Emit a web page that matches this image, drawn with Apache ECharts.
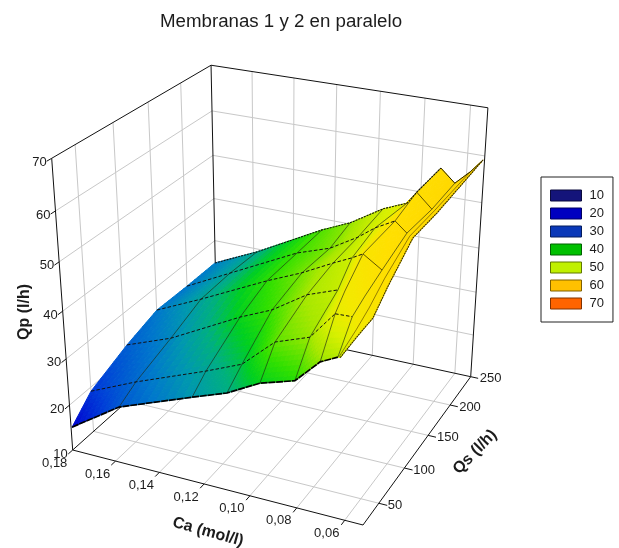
<!DOCTYPE html><html><head><meta charset="utf-8"><style>html,body{margin:0;background:#fff}#c{width:619px;height:548px}</style>
<script src="https://cdn.jsdelivr.net/npm/echarts@6/dist/echarts.min.js"></script></head><body><div id="c"></div>
<script>
// ---- data ----
const titleText = 'Membranas 1 y 2 en paralelo';
const caTicks = [0.18, 0.16, 0.14, 0.12, 0.10, 0.08, 0.06];
const qsTicks = [50, 100, 150, 200, 250];
const qpTicks = [10, 20, 30, 40, 50, 60, 70];
const legendNames = ['10', '20', '30', '40', '50', '60', '70'];
const legendColors = ['#14147a', '#0000c0', '#0a38b8', '#00c000', '#c0f000', '#ffc000', '#ff6400'];
const legendBorders = ['#0a0a3c', '#000060', '#051c5c', '#006000', '#607800', '#806000', '#803200'];
const caGrid = [
  [.1799, .1573, .1245, .1095, .0956, .0813, .0715, .0641, .0623, .0602],
  [.1800, .1585, .1266, .1108, .0967, .0823, .0706, .0609, .0557, .0534],
  [.1799, .1585, .1262, .1119, .0967, .0836, .0715, .0600, .0550, .0508],
  [.1802, .1583, .1269, .1109, .0971, .0888, .0746, .0594, .0559, .0524],
  [.1800, .1581, .1255, .1101, .0974, .0898, .0717, .0599, .0579, .0562],
  [.1784, .1567, .1245, .1111, .0958, .0849, .0728, .0577, .0563, .0546],
  [null, null, null, null, null, null, .0713, .0570, .0546, .0533]
];
const qsGrid = [
  [22, 22, 22, 22, 22, 22, 23, 21, 15, 8],
  [50, 50, 50, 50, 50, 50, 43, 30, 14, 5],
  [103, 103, 103, 103, 103, 103, 63, 47, 32, 20],
  [151, 151, 151, 151, 151, 151, 108, 74, 63, 53],
  [200, 200, 200, 200, 200, 200, 155, 122, 118, 116],
  [244, 244, 244, 244, 244, 244, 204, 161, 159, 156],
  [null, null, null, null, null, null, 249, 206, 228, 251]
];
const qpGrid = [
  [15.0, 22.1, 28.0, 30.6, 34.2, 36.3, 41, 43, 44, 45],
  [19.1, 23.6, 29.5, 32.7, 38.8, 41.3, 48, 50, 50, 50],
  [22.6, 26.4, 34.4, 37.4, 42.1, 44.4, 50, 52, 52, 52],
  [24.7, 29.4, 36.6, 39.9, 43.3, 45.2, 52, 54, 54, 54],
  [24.6, 29.8, 37.5, 40.0, 43.6, 46.3, 54, 56, 56, 56],
  [25.4, 30.1, 38.2, 41.0, 45.5, 47.7, 55, 57, 57, 57],
  [null, null, null, null, null, null, 56, 58, 58.5, 59]
];
const colorStops = [[15,[0,0,208]],[20,[0,64,216]],[25,[0,120,204]],[28,[0,152,176]],[31,[0,176,128]],[34,[0,208,32]],[37,[48,224,0]],[42,[168,232,0]],[46,[216,240,0]],[50,[242,234,0]],[54,[255,224,0]],[60,[255,212,0]]];

// ---- perspective box: where its corners fall on the page ----
const CA0 = 0.18, CA1 = 0.0525, QS0 = 21, QS1 = 250, QP0 = 10, QP1 = 70;
const A = [72.7, 450, 1], B = [363, 525, 1], C = [470.7, 376.7, 1], D = [216.5, 321.5, 1], Ap = [51.7, 158.3, 1];
const det3 = (a, b, c) => a[0]*(b[1]*c[2]-b[2]*c[1]) - a[1]*(b[0]*c[2]-b[2]*c[0]) + a[2]*(b[0]*c[1]-b[1]*c[0]);
const mC = C.map(v => -v), dd = det3(B, D, mC);
const l1 = det3(A, D, mC) / dd, l2 = det3(B, A, mC) / dd, l3 = 0.9084;
const p1 = B.map((v, i) => v*l1 - A[i]), p2 = D.map((v, i) => v*l2 - A[i]), p3 = Ap.map((v, i) => v*l3 - A[i]);
function project(ca, qs, qp) {
  const u = (CA0-ca)/(CA0-CA1), v = (qs-QS0)/(QS1-QS0), w = (qp-QP0)/(QP1-QP0);
  const h = [0,1,2].map(i => A[i] + p1[i]*u + p2[i]*v + p3[i]*w);
  return [h[0]/h[2], h[1]/h[2]];
}
function colorOf(q) {
  const s = colorStops;
  if (q <= s[0][0]) return 'rgb(' + s[0][1] + ')';
  for (let i = 1; i < s.length; i++) if (q <= s[i][0]) {
    const t = (q-s[i-1][0])/(s[i][0]-s[i-1][0]);
    return 'rgb(' + s[i][1].map((c, k) => Math.round(s[i-1][1][k] + (c-s[i-1][1][k])*t)) + ')';
  }
  return 'rgb(' + s[s.length-1][1] + ')';
}
const FONT = 'Liberation Sans, Arial, sans-serif', INK = '#1c1c1c';
const pt = (api, d) => api.coord(project(d[0], d[1], d[2]));
function polyline(api, pts, style) {
  return {type: 'polyline', shape: {points: pts.map(d => pt(api, d))}, style: Object.assign({fill: null}, style), silent: true};
}

// grid lines and box edges, in data units
const gridLines = [];
caTicks.slice(1).forEach(c => {
  gridLines.push([[c, QS0, QP0], [c, QS1, QP0]]);
  gridLines.push([[c, QS1, QP0], [c, QS1, QP1]]);
});
qsTicks.slice(0, -1).forEach(q => {
  gridLines.push([[CA0, q, QP0], [CA1, q, QP0]]);
  gridLines.push([[CA0, q, QP0], [CA0, q, QP1]]);
});
qpTicks.slice(1, -1).forEach(q => {
  gridLines.push([[CA0, QS0, q], [CA0, QS1, q]]);
  gridLines.push([[CA0, QS1, q], [CA1, QS1, q]]);
});
const boxLines = [
  [[CA0,QS0,QP0],[CA1,QS0,QP0]], [[CA1,QS0,QP0],[CA1,QS1,QP0]], [[CA1,QS1,QP0],[CA0,QS1,QP0]], [[CA0,QS1,QP0],[CA0,QS0,QP0]],
  [[CA0,QS0,QP0],[CA0,QS0,QP1]], [[CA0,QS0,QP1],[CA0,QS1,QP1]], [[CA0,QS1,QP1],[CA0,QS1,QP0]], [[CA0,QS1,QP1],[CA1,QS1,QP1]], [[CA1,QS1,QP1],[CA1,QS1,QP0]]
];
caTicks.slice(1).forEach(c => boxLines.push([[c,QS0,QP0],[c,QS0-6,QP0]]));
qsTicks.forEach(q => boxLines.push([[CA1,q,QP0],[CA1-0.0035,q,QP0]]));
qpTicks.forEach(q => boxLines.push([[CA0,QS0,q],[CA0,QS0-6,q]]));

// text labels
const labels = [];
caTicks.forEach(c => labels.push({at:[c,QS0,QP0], dx:-18, dy:13, text:c.toFixed(2).replace('.',','), align:'center'}));
qsTicks.forEach(q => labels.push({at:[CA1,q,QP0], dx:9, dy:2, text:String(q), align:'left'}));
qpTicks.forEach(q => labels.push({at:[CA0,QS0,q], dx:-5, dy:4, text:String(q), align:'right'}));
const axisTitles = [
  {x:25, y:312, rot:Math.PI/2, text:'Qp (l/h)'},
  {x:208, y:532, rot:-0.27, text:'Ca (mol/l)'},
  {x:475, y:452, rot:0.8, text:'Qs (l/h)'}
];

const ROWS = caGrid.length, COLS = caGrid[0].length;
const cells = [];
for (let r = ROWS-2; r >= 0; r--) for (let c = 0; c < COLS-1; c++)
  if (caGrid[r+1][c] !== null && caGrid[r+1][c+1] !== null) cells.push([c, r]);

function bil(g, c, r, s, t) {
  return (g[r][c]*(1-s) + g[r][c+1]*s)*(1-t) + (g[r+1][c]*(1-s) + g[r+1][c+1]*s)*t;
}
const SUB = 8;
function renderCell(params, api) {
  const c = api.value(0), r = api.value(1), kids = [];
  const V = (s, t) => [bil(caGrid,c,r,s,t), bil(qsGrid,c,r,s,t), bil(qpGrid,c,r,s,t)];
  for (let i = 0; i < SUB; i++) for (let j = 0; j < SUB; j++) {
    const s0=i/SUB, s1=(i+1)/SUB, t0=j/SUB, t1=(j+1)/SUB;
    const col = colorOf(bil(qpGrid,c,r,(s0+s1)/2,(t0+t1)/2));
    kids.push({type:'polygon', shape:{points:[V(s0,t0),V(s1,t0),V(s1,t1),V(s0,t1)].map(d=>pt(api,d))},
      style:{fill:col, stroke:col, lineWidth:1}, silent:true});
  }
  return {type:'group', children:kids};
}
const vertex = (r, c) => [caGrid[r][c], qsGrid[r][c], qpGrid[r][c]];
function rowPts(r, from, to) {
  const out = [];
  for (let c = from; c <= to; c++) if (caGrid[r][c] !== null) out.push(vertex(r, c));
  return out;
}
function colPts(c) {
  const out = [];
  for (let r = 0; r < ROWS; r++) if (caGrid[r][c] !== null) out.push(vertex(r, c));
  return out;
}
function renderMesh(params, api) {
  const kids = [];
  for (let c = 1; c < COLS-1; c++) kids.push(polyline(api, colPts(c), {stroke:c===8?'rgba(90,70,0,0.8)':'rgba(30,40,20,0.8)', lineWidth:0.8}));
  const dash = {stroke:'#111', lineWidth:1, lineDash:[3.5,2]}, cross = {stroke:'rgba(60,50,0,0.9)', lineWidth:0.9};
  kids.push(polyline(api, rowPts(1,0,6), dash));
  kids.push(polyline(api, rowPts(2,0,5), dash));
  kids.push(polyline(api, rowPts(3,0,6), dash));
  kids.push(polyline(api, rowPts(4,0,6), dash));
  kids.push(polyline(api, rowPts(1,6,7), dash));
  [3,4,5].forEach(r => kids.push(polyline(api, rowPts(r,6,7), cross)));
  // outer rim of the surface
  kids.push(polyline(api, rowPts(0,0,7), {stroke:'#000', lineWidth:1.7, lineDash:[7,0.8]}));
  kids.push(polyline(api, rowPts(5,0,6).concat([vertex(6,6)]), {stroke:'#111', lineWidth:1.1, lineDash:[2,1]}));
  kids.push(polyline(api, rowPts(6,6,9), {stroke:'#221c00', lineWidth:1}));
  kids.push(polyline(api, colPts(9), {stroke:'#3a3000', lineWidth:1.1, lineDash:[2,0.6]}));
  return {type:'group', children:kids};
}
const chart = echarts.init(document.getElementById('c'), null, {renderer:'canvas'});
const single = [[0]];
chart.setOption({
  animation:false,
  backgroundColor:'#fff',
  title:{text:titleText, left:155, top:7, textStyle:{fontFamily:FONT, fontSize:18.7, fontWeight:'normal', color:INK}},
  legend:{left:541, top:177, orient:'vertical', selectedMode:false, itemWidth:31, itemHeight:11, itemGap:5, padding:[12,9,12,9], 
    borderColor:'#222', borderWidth:1, textStyle:{fontFamily:FONT, fontSize:13, color:INK, padding:[0,0,0,3]},
    data:legendNames.map((n,i)=>({name:n, icon:'rect', itemStyle:{color:legendColors[i], borderColor:legendBorders[i], borderWidth:1, opacity:1}}))},
  grid:{left:0, right:0, top:0, bottom:0},
  xAxis:{type:'value', min:0, max:619, show:false},
  yAxis:{type:'value', min:0, max:548, inverse:true, show:false},
  series:[
    {type:'custom', coordinateSystem:'cartesian2d', data:single, silent:true, z:1, renderItem:(p,api)=>({type:'group', children:gridLines.map(l=>polyline(api,l,{stroke:'#c8c8c8',lineWidth:1}))})},
    {type:'custom', coordinateSystem:'cartesian2d', data:single, silent:true, z:2, renderItem:(p,api)=>({type:'group', children:boxLines.map(l=>polyline(api,l,{stroke:'#111',lineWidth:1}))})},
    {type:'custom', coordinateSystem:'cartesian2d', data:cells, silent:true, z:3, renderItem:renderCell},
    {type:'custom', coordinateSystem:'cartesian2d', data:single, silent:true, z:4, renderItem:renderMesh},
    {type:'custom', coordinateSystem:'cartesian2d', data:single, silent:true, z:5, renderItem:(p,api)=>({type:'group', children:
      labels.map(l=>{const q=pt(api,l.at);return {type:'text', silent:true, style:{x:q[0]+l.dx, y:q[1]+l.dy, text:l.text, textAlign:l.align, textVerticalAlign:'middle', font:'13px '+FONT, fill:INK}};})
      .concat(axisTitles.map(t=>({type:'text', silent:true, x:t.x, y:t.y, rotation:t.rot, style:{text:t.text, textAlign:'center', textVerticalAlign:'middle', font:'bold 16px '+FONT, fill:INK}})))})}
  ].concat(legendNames.map((n,i)=>({type:'scatter', name:n, data:[], itemStyle:{color:legendColors[i], opacity:1}})))
});
</script></body></html>
